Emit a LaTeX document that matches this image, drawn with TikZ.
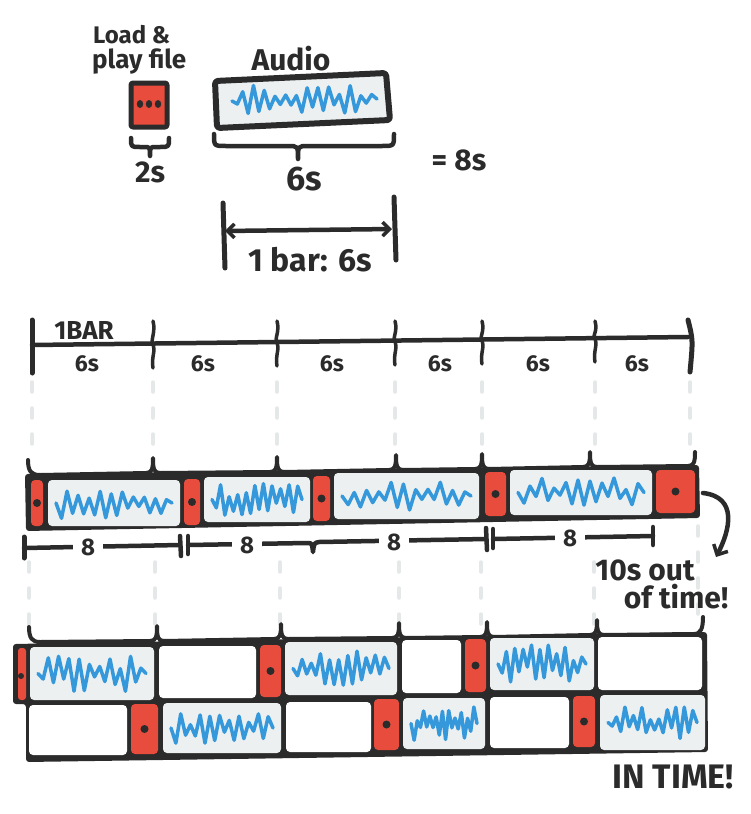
\documentclass[tikz,border=0pt]{standalone}
\usepackage{fontspec}
\setmainfont{Fira Sans}
\usetikzlibrary{arrows.meta}
\definecolor{ink}{HTML}{2B2B2B}
\definecolor{cred}{HTML}{E74C3C}
\definecolor{cgray}{HTML}{ECF0F1}
\definecolor{cblue}{HTML}{3498DB}
\definecolor{cguide}{HTML}{E4E8E9}
\tikzset{
  pen/.style={draw=ink, line width=4.5pt, line cap=round, line join=round},
  redcell/.style={fill=cred, rounded corners=4pt},
  audcell/.style={fill=cgray, rounded corners=4pt},
  emptycell/.style={fill=white, rounded corners=4pt},
  wave/.style={draw=cblue, line width=3.5pt, line join=round, line cap=round},
  guide/.style={draw=cguide, line width=3.5pt, line cap=round, dash pattern=on 10pt off 16pt},
  lbl/.style={text=ink, inner sep=0pt, font=\bfseries\fontsize{#1}{#1}\selectfont},
  lbl/.default=22,
  barbend/.style={-{Straight Barb[length=8pt,width=16pt,line width=3.5pt]}},
  barbboth/.style={{Straight Barb[length=7pt,width=14pt,line width=3.5pt]}-{Straight Barb[length=7pt,width=14pt,line width=3.5pt]}},
}
\newcommand\redbox[4]{\fill[redcell] (#1,#2) rectangle (#3,#4);
  \fill[ink] ({(#1+#3)/2},{(#2+#4)/2}) circle[radius=4pt];}
\newcommand\blankbox[4]{\fill[emptycell] (#1,#2) rectangle (#3,#4);}
\newcommand\audbox[6]{\fill[audcell] (#1,#2) rectangle (#3,#4);
  \pgfmathsetseed{#5}
  \draw[wave] ({#1+8},{(#2+#4)/2}) \foreach \i in {1,...,20} { -- ({#1+8+\i*(#3-#1-16)/21},{(#2+#4)/2+(2*mod(\i,2)-1)*(0.15+0.85*rnd)*#6}) } -- ({#3-8},{(#2+#4)/2});}
\begin{document}
\begin{tikzpicture}[x=1pt,y=-1pt]
\useasboundingbox (0,0) rectangle (750,814);

% ---------- top part ----------
\node[lbl=24, anchor=west] (load) at (93,35) {Load \&};
\node[lbl=26, anchor=west] (play) at (92,62) {play file};
\draw[pen, line width=5pt, fill=cred, rounded corners=2pt] (131,83) rectangle (167,127);
\foreach \x in {140,149,158} \fill[ink] (\x,104) ellipse[x radius=3.2pt, y radius=4pt];
\draw[pen] (131,138) .. controls (131,147) .. (140,147) -- (144,147) .. controls (150,147) .. (150,156) .. controls (150,147) .. (156,147) -- (160,147) .. controls (169,147) .. (169,138);
\node[lbl=30] (twos) at (150,172) {2s};

\node[lbl=30] (audio) at (291,59) {Audio};
\draw[pen, line width=6pt, fill=cgray, rounded corners=3pt] (215,81) -- (386,73) -- (390,120) -- (217,128) -- cycle;
\pgfmathsetseed{7}
\draw[wave] (232,101) \foreach \i in {1,...,26} { -- ({232+\i*145/27},{100+(2*mod(\i,2)-1)*(0.15+0.85*rnd)*15}) } -- (377,99);
\draw[pen] (214,134) .. controls (214,146) .. (226,146) -- (288,146) .. controls (298,146) .. (298,159) .. controls (298,146) .. (308,146) -- (382,146) .. controls (394,146) .. (394,134);
\node[lbl=34] (sixs) at (304,179) {6s};
\node[lbl=30] (eight) at (459,160) {= 8s};

\coordinate (dl) at (224,231);
\coordinate (dr) at (393,229);
\draw[pen, line width=5pt] (223,203) -- (225,268);
\draw[pen, line width=5pt] (394,197) -- (396,260);
\draw[pen, barbboth, shorten <=1pt, shorten >=1pt] (dl) -- (dr);
\node[lbl=32] (onebar) at (310,260) {1 bar: 6s};

% ---------- ruler ----------
\draw[pen] (32,345) -- (688,337);
\draw[pen, line width=5pt] (32,320) -- (32,373);
\draw[pen, line width=5pt] (688,320) .. controls (693,340) .. (690,372);
\foreach \b/\y in {153/344, 277/342, 395/341, 482/340, 595/338}
  \draw[pen, line width=3.5pt] (\b,321) .. controls ({\b+3},332) and ({\b-3},{\y-3}) .. (\b,\y) .. controls ({\b+3},{\y+6}) and ({\b-2},{\y+14}) .. (\b,{\y+24});
\node[lbl=26] (bar) at (84,330) {1BAR};
\foreach \x/\n in {87/a, 203/b, 332/c, 440/d, 538/e, 637/f}
  \node[lbl=23] (six\n) at (\x,364) {6s};

% ---------- guides ----------
\foreach \x in {32,153,277,395,482,595,690} \draw[guide] (\x,382) -- (\x,452);
\foreach \x in {29,155,280,399,481,594} \draw[guide] (\x,562) -- (\x,626);
\draw[guide] (698,526) -- (698,626);

% ---------- strip 1 ----------
\fill[ink, rounded corners=3pt] (25,474) -- (699,465) -- (700,518) -- (26,531) -- cycle;
\draw[pen, line width=4pt] (28,460) .. controls (28,471) and (31,475) .. (40,475)
  \foreach \b/\y in {153/473, 277/472, 396/470, 482/469, 590/467} { -- ({\b-7},\y) .. controls ({\b-1},\y) and (\b,{\y-4}) .. (\b,{\y-15}) .. controls (\b,{\y-4}) and ({\b+1},\y) .. ({\b+7},\y) }
  -- (688,466) .. controls (694,466) and (695,462) .. (695,452);
\redbox{31}{480}{43}{526}
\audbox{48}{480}{180}{526}{11}{16}
\redbox{184}{479}{200}{525}
\audbox{204}{477}{310}{522}{12}{16}
\redbox{313}{476}{330}{521}
\audbox{334}{473}{479}{519}{13}{14}
\redbox{485}{472}{506}{516}
\audbox{510}{470}{652}{515}{14}{15}
\redbox{656}{470}{695}{513}

% dimension row
\draw[pen, line width=5pt] (24,537) -- (24,558);
\draw[pen] (24,548) -- (180,545);
\draw[pen] (180,536) -- (181,556);
\draw[pen] (188,536) -- (188,554);
\draw[pen] (188,545) -- (307,543) .. controls (312,543) .. (313,552) .. controls (314,543) .. (319,542) -- (486,539);
\draw[pen] (486,528) -- (487,550);
\draw[pen] (493,529) -- (493,548);
\draw[pen] (493,539) -- (653,536);
\draw[pen] (653,527) -- (653,545);
\foreach \x/\y/\n in {88/547/a, 247/545/b, 394/542/c, 570/538/d}
  \node[lbl=24, fill=white, inner xsep=8pt, inner ysep=1pt] (eight\n) at (\x,\y) {8};

% out of time arrow
\coordinate (arrs) at (703,493);
\node[lbl=30] (oot1) at (645,570) {10s out};
\node[lbl=30] (oot2) at (676,597) {of time!};
\draw[pen, barbend] (arrs) .. controls (738,497) and (730,530) .. (716,557);

% ---------- strip 2 ----------
\fill[ink, rounded corners=3pt] (13,644) -- (707,632) -- (708,752) -- (26,762) -- (26,704) -- (13,704) -- cycle;
\draw[pen, line width=4pt] (29,627) .. controls (29,638) and (32,642) .. (40,642)
  \foreach \b/\y in {157/641, 281/639, 399/638, 487/637, 597/635} { -- ({\b-7},\y) .. controls ({\b-1},\y) and (\b,{\y-4}) .. (\b,{\y-15}) .. controls (\b,{\y-4}) and ({\b+1},\y) .. ({\b+7},\y) }
  -- (694,634) .. controls (701,634) and (703,628) .. (703,617);
% top row
\fill[redcell, rounded corners=3pt] (18,648) rectangle (26,700);
\fill[ink] (21,676) circle[radius=3pt];
\audbox{30}{647}{154}{700}{21}{19}
\blankbox{159}{646}{256}{698}
\redbox{260}{645}{281}{697}
\audbox{285}{642}{397}{695}{22}{19}
\blankbox{402}{640}{461}{693}
\redbox{465}{639}{486}{692}
\audbox{490}{638}{594}{690}{23}{19}
\blankbox{598}{637}{702}{690}
% bottom row
\blankbox{29}{705}{127}{755}
\redbox{131}{704}{158}{754}
\audbox{163}{703}{281}{753}{24}{17}
\blankbox{286}{702}{371}{752}
\redbox{374}{699}{399}{750}
\audbox{403}{698}{485}{749}{25}{17}
\blankbox{490}{697}{569}{748}
\redbox{573}{696}{595}{747}
\audbox{600}{695}{705}{750}{26}{16}

\node[lbl=34] (intime) at (673,777) {IN TIME!};
\end{tikzpicture}
\end{document}
